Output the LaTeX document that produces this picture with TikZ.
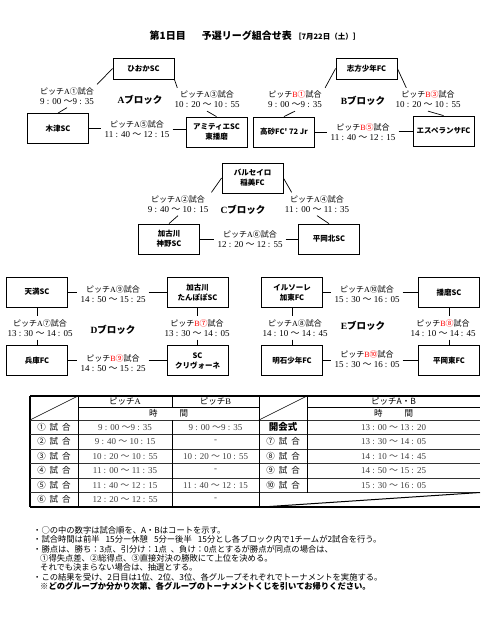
\documentclass[tikz,border=0pt]{standalone}
\usepackage{fontspec}
\setmainfont{Liberation Serif}
\newfontfamily\jp{Noto Sans CJK JP}
\newcommand\wave{{\jp 〜}}
\newcommand\tm[1]{{\rmfamily\fontsize{9}{10}\selectfont #1}}
\newcommand\pa[1]{ピッチ{\rmfamily A}#1試合}
\newcommand\pb[1]{ピッチ\textcolor{red}{{\rmfamily B}#1}試合}
\newcommand\blk[1]{{\rmfamily\bfseries #1}ブロック}
\tikzset{
  team/.style={draw, line width=0.8pt, minimum width=61pt, minimum height=30pt,
    align=center, inner sep=1pt, font=\jp\bfseries\fontsize{7.5}{10}\selectfont},
  topteam/.style={team, minimum height=21pt},
  match/.style={align=center, inner sep=3pt, font=\jp\fontsize{8}{10}\selectfont},
  block/.style={font=\jp\bfseries\fontsize{9.5}{10}\selectfont},
  conn/.style={line width=0.7pt},
  cell/.style={inner sep=0pt, font=\jp\fontsize{8}{9}\selectfont, text=black!75},
  head/.style={cell, text=black, font=\jp\fontsize{8.5}{9}\selectfont},
  note/.style={anchor=west, inner sep=0pt, font=\jp\fontsize{8.3}{9}\selectfont},
}
\begin{document}
\begin{tikzpicture}[x=1pt,y=-1pt]
    \useasboundingbox (0,0) rectangle (480,636);
    \node (title) at (255,36) {\jp\bfseries\fontsize{10}{10}\selectfont 第1日目\hspace{16pt}予選リーグ組合せ表 {\fontsize{7.5}{8}\selectfont［7月22日（土）］}};
    % A block
    \node[topteam] (hioka) at (143.5,68.5) {ひおかSC};
    \node[team] (kizu) at (58,128.5) {木津SC};
    \node[team] (amitie) at (216.5,132) {アミティエSC\\東播磨};
    \node[match] (a1) at (67,96) {\pa{①}\\\tm{9 : 00 \wave9 : 35}};
    \node[match] (a3) at (207,99.5) {\pa{③}\\\tm{10 : 20 \wave\ 10 : 55}};
    \node[match] (a5) at (137,129) {\pa{⑤}\\\tm{11 : 40 \wave\ 12 : 15}};
    \node[block] (ablock) at (140,100) {\blk{A}};
    \draw[conn] (hioka.west) -- (a1.north east);
    \draw[conn] (a1.south) -- (kizu.north);
    \draw[conn] (hioka.south east) -- ([xshift=6pt]a3.north west);
    \draw[conn] (a3.south) -- (amitie.north);
    \draw[conn] (kizu.east) -- (kizu.east -| a5.west);
    \draw[conn] (a5.east) -- (a5.east -| amitie.west);
    % B block
    \node[topteam] (shikata) at (366.5,68.5) {志方少年FC};
    \node[team] (takasago) at (284,132) {高砂FC' 72 Jr};
    \node[team] (esperanza) at (443.5,131) {エスペランサFC};
    \node[match] (b1) at (295,99.5) {\pb{①}\\\tm{9 : 00 \wave9 : 35}};
    \node[match] (b3) at (428,99.5) {\pb{③}\\\tm{10 : 20 \wave\ 10 : 55}};
    \node[match] (b5) at (363,132) {\pb{⑤}\\\tm{11 : 40 \wave\ 12 : 15}};
    \node[block] (bblock) at (363,101) {\blk{B}};
    \draw[conn] (shikata.west) -- (b1.north east);
    \draw[conn] (b1.south) -- (takasago.north);
    \draw[conn] (shikata.east) -- ([xshift=14pt]b3.north west);
    \draw[conn] (b3.south) -- (esperanza.north);
    \draw[conn] (takasago.east) -- (takasago.east -| b5.west);
    \draw[conn] (b5.east |- esperanza.west) -- (esperanza.west);
    % C block
    \node[team] (barcelo) at (252.5,178) {バルセイロ\\稲美FC};
    \node[team] (kanno) at (169,239) {加古川\\神野SC};
    \node[team] (hkita) at (329,239) {平岡北SC};
    \node[match] (c2) at (178,204) {\pa{②}\\\tm{9 : 40 \wave\ 10 : 15}};
    \node[match] (c4) at (317,204) {\pa{④}\\\tm{11 : 00 \wave\ 11 : 35}};
    \node[match] (c6) at (250,239) {\pa{⑥}\\\tm{12 : 20 \wave\ 12 : 55}};
    \node[block] (cblock) at (243,210) {\blk{C}};
    \draw[conn] (barcelo.west) -- (c2.north east);
    \draw[conn] (c2.south) -- (kanno.north);
    \draw[conn] (barcelo.east) -- ([xshift=10pt]c4.north west);
    \draw[conn] (c4.south) -- (hkita.north);
    \draw[conn] (kanno.east) -- (kanno.east -| c6.west);
    \draw[conn] (c6.east) -- (c6.east -| hkita.west);
    % D block
    \node[team] (tenma) at (37,292) {天満SC};
    \node[team] (tanpopo) at (197.5,292.5) {加古川\\たんぽぽSC};
    \node[team] (hyogo) at (37,360.5) {兵庫FC};
    \node[team] (crivone) at (197.5,360.5) {SC\\クリヴォーネ};
    \node[match] (d9a) at (113,294.5) {\pa{⑨}\\\tm{14 : 50 \wave\ 15 : 25}};
    \node[match] (d7a) at (40,328) {\pa{⑦}\\\tm{13 : 30 \wave\ 14 : 05}};
    \node[match] (d7b) at (197,328) {\pb{⑦}\\\tm{13 : 30 \wave\ 14 : 05}};
    \node[match] (d9b) at (113,363) {\pb{⑨}\\\tm{14 : 50 \wave\ 15 : 25}};
    \node[block] (dblock) at (113,330) {\blk{D}};
    \draw[conn] (tenma.east) -- (tenma.east -| d9a.west);
    \draw[conn] (d9a.east |- tanpopo.west) -- (tanpopo.west);
    \draw[conn] (tenma.south) -- (tenma.south |- d7a.north);
    \draw[conn] (hyogo.north |- d7a.south) -- (hyogo.north);
    \draw[conn] (tanpopo.south) -- (tanpopo.south |- d7b.north);
    \draw[conn] (crivone.north |- d7b.south) -- (crivone.north);
    \draw[conn] (hyogo.east) -- (hyogo.east -| d9b.west);
    \draw[conn] (d9b.east |- crivone.west) -- (crivone.west);
    % E block
    \node[team] (ilsole) at (292,292.5) {イルソーレ\\加東FC};
    \node[team] (harima) at (449,292.5) {播磨SC};
    \node[team] (akashi) at (292,360.5) {明石少年FC};
    \node[team] (hhigashi) at (449,360.5) {平岡東FC};
    \node[match] (e10a) at (367,294.5) {\pa{⑩}\\\tm{15 : 30 \wave\ 16 : 05}};
    \node[match] (e8a) at (295,328) {\pa{⑧}\\\tm{14 : 10 \wave\ 14 : 45}};
    \node[match] (e8b) at (443,328) {\pb{⑧}\\\tm{14 : 10 \wave\ 14 : 45}};
    \node[match] (e10b) at (367,359) {\pb{⑩}\\\tm{15 : 30 \wave\ 16 : 05}};
    \node[block] (eblock) at (363,326) {\blk{E}};
    \draw[conn] (ilsole.east) -- (ilsole.east -| e10a.west);
    \draw[conn] (e10a.east |- harima.west) -- (harima.west);
    \draw[conn] (ilsole.south) -- (ilsole.south |- e8a.north);
    \draw[conn] (akashi.north |- e8a.south) -- (akashi.north);
    \draw[conn] (harima.south) -- (harima.south |- e8b.north);
    \draw[conn] (hhigashi.north |- e8b.south) -- (hhigashi.north);
    \draw[conn] (akashi.east) -- (akashi.east -| e10b.west);
    \draw[conn] (e10b.east |- hhigashi.west) -- (hhigashi.west);
    % table
    \draw[line width=1.3pt] (30,396) -- (480,396);
    \draw[line width=1.3pt] (30,507) -- (480,507);
    \draw[line width=1.3pt] (30,396) -- (30,507);
    \draw[line width=0.6pt] (78,407) -- (259,407);
    \draw[line width=0.6pt] (307,407) -- (480,407);
    \foreach \y in {420,434.5,449,463.5,478,492.5}
        \draw[line width=1pt, black!80] (30,\y) -- (480,\y);
    \draw[line width=0.8pt] (78,396) -- (78,507);
    \draw[line width=0.6pt] (172,396) -- (172,407);
    \draw[line width=0.6pt] (172,420) -- (172,507);
    \draw[line width=1pt] (259,396) -- (259,507);
    \draw[line width=0.8pt] (307,396) -- (307,492.5);
    \draw[line width=0.6pt] (30,420) -- (78,396);
    \draw[line width=0.6pt] (259,420) -- (307,396);
    \draw[line width=1pt] (262,507) -- (480,492.5);
    \node[head] (hpa) at (125,401.5) {ピッチ{\rmfamily A}};
    \node[head] (hpb) at (215.5,401.5) {ピッチ{\rmfamily B}};
    \node[head] (hjikan) at (168.5,413.5) {時\hspace{22pt}間};
    \node[head] (hpab) at (393.5,401.5) {ピッチA・B};
    \node[head] (hjikan2) at (393.5,413.5) {時\hspace{22pt}間};
    \foreach \n/\ta/\tb [count=\i] in {
        ①/{9 : 00 \wave9 : 35}/{9 : 00 \wave9 : 35},
        ②/{9 : 40 \wave\ 10 : 15}/{-},
        ③/{10 : 20 \wave\ 10 : 55}/{10 : 20 \wave\ 10 : 55},
        ④/{11 : 00 \wave\ 11 : 35}/{-},
        ⑤/{11 : 40 \wave\ 12 : 15}/{11 : 40 \wave\ 12 : 15},
        ⑥/{12 : 20 \wave\ 12 : 55}/{-}} {
        \node[head] (g\i) at (54,{412.75+14.5*\i}) {\n\hspace{4pt}試\hspace{4pt}合};
        \node[cell] (ta\i) at (125,{412.75+14.5*\i}) {\tm{\ta}};
        \node[cell] (tb\i) at (215.5,{412.75+14.5*\i}) {\tm{\tb}};
    }
    \node[head, font=\jp\bfseries\fontsize{9.5}{10}\selectfont] (kai) at (283,427.25) {開会式};
    \node[cell] (tk) at (393.5,427.25) {\tm{13 : 00 \wave\ 13 : 20}};
    \foreach \n/\t [count=\i from 2] in {
        ⑦/{13 : 30 \wave\ 14 : 05},
        ⑧/{14 : 10 \wave\ 14 : 45},
        ⑨/{14 : 50 \wave\ 15 : 25},
        ⑩/{15 : 30 \wave\ 16 : 05}} {
        \node[head] (h\i) at (283,{412.75+14.5*\i}) {\n\hspace{4pt}試\hspace{4pt}合};
        \node[cell] (tr\i) at (393.5,{412.75+14.5*\i}) {\tm{\t}};
    }
    % notes
    \node[note] (n1) at (33,530) {・○の中の数字は試合順を、A・Bはコートを示す。};
    \node[note] (n2) at (33,539.5) {・試合時間は前半\hspace{6pt}15分ー休憩\hspace{6pt}5分ー後半\hspace{6pt}15分とし各ブロック内で1チームが2試合を行う。};
    \node[note] (n3) at (33,549) {・勝点は、勝ち：3点、引分け：1点\hspace{4pt}、負け：0点とするが勝点が同点の場合は、};
    \node[note] (n4) at (40,558) {①得失点差、②総得点、③直接対決の勝敗にて上位を決める。};
    \node[note] (n5) at (40,567.5) {それでも決まらない場合は、抽選とする。};
    \node[note] (n6) at (33,577) {・この結果を受け、2日目は1位、2位、3位、各グループそれぞれでトーナメントを実施する。};
    \node[note, font=\jp\bfseries\fontsize{8.3}{9}\selectfont] (n7) at (40,586.5) {※どのグループか分かり次第、各グループのトーナメントくじを引いてお帰りください。};
\end{tikzpicture}
\end{document}
